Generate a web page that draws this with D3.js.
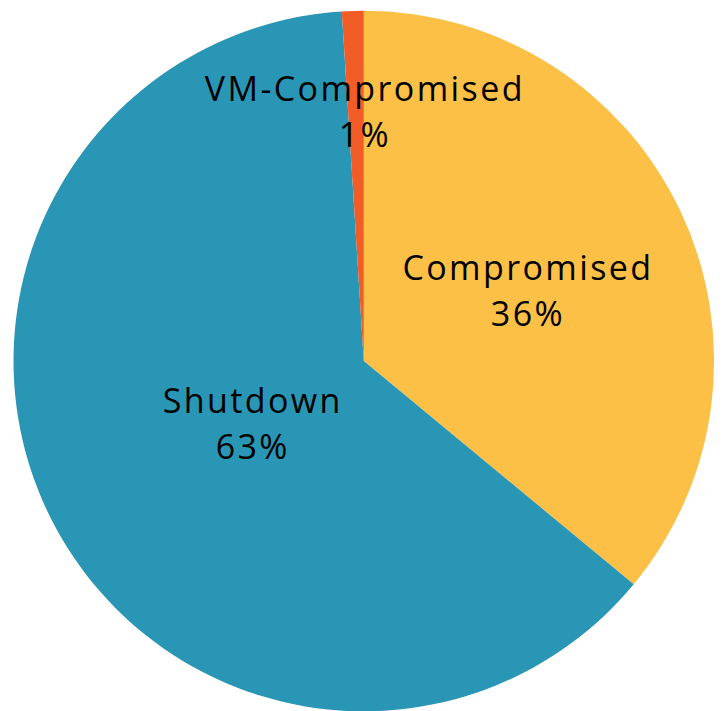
<!DOCTYPE html>
<meta charset="utf-8">
<style>
body { margin: 0; background: #fff; }
.labels text {
  font-family: "Open Sans", sans-serif;
  font-size: 34px;
  letter-spacing: 2.4px;
  fill: #000;
}
</style>
<svg width="722" height="711"></svg>
<script src="https://d3js.org/d3.v7.min.js"></script>
<script>

var categories = ["Compromised", "Shutdown", "VM-Compromised"];
var values = [36, 63, 1];
var colors = ["#fbc045", "#2a96b5", "#f25c27"];

// label distance from centre and sideways nudge, per slice
var labelRadius = [177, 128, 254];
var labelNudge = [4, 3, 9];

var svg = d3.select("svg"),
    width = +svg.attr("width"),
    height = +svg.attr("height");

var cx = 363.8, cy = 361, radius = 350.3;

var data = categories.map(function(c, i) { return {name: c, value: values[i], i: i}; });

var pie = d3.pie()
    .sort(null)
    .value(function(d) { return d.value; });

var arcs = pie(data);

var arc = d3.arc().innerRadius(0).outerRadius(radius);

var g = svg.append("g").attr("transform", "translate(" + cx + "," + cy + ")");

g.append("g")
    .attr("class", "slices")
  .selectAll("path")
  .data(arcs)
  .enter().append("path")
    .attr("d", arc)
    .attr("fill", function(d) { return colors[d.data.i]; });

var total = d3.sum(values);

var label = g.append("g")
    .attr("class", "labels")
  .selectAll("text")
  .data(arcs)
  .enter().append("text")
    .attr("text-anchor", "middle")
    .attr("transform", function(d) {
      var r = labelRadius[d.data.i];
      var c = d3.arc().innerRadius(r).outerRadius(r).centroid(d);
      return "translate(" + (c[0] + labelNudge[d.data.i]) + "," + c[1] + ")";
    });

label.append("tspan")
    .attr("x", 0)
    .attr("y", -6)
    .text(function(d) { return d.data.name; });

label.append("tspan")
    .attr("x", 0)
    .attr("y", 40)
    .text(function(d) { return Math.round(d.data.value / total * 100) + "%"; });

</script>
